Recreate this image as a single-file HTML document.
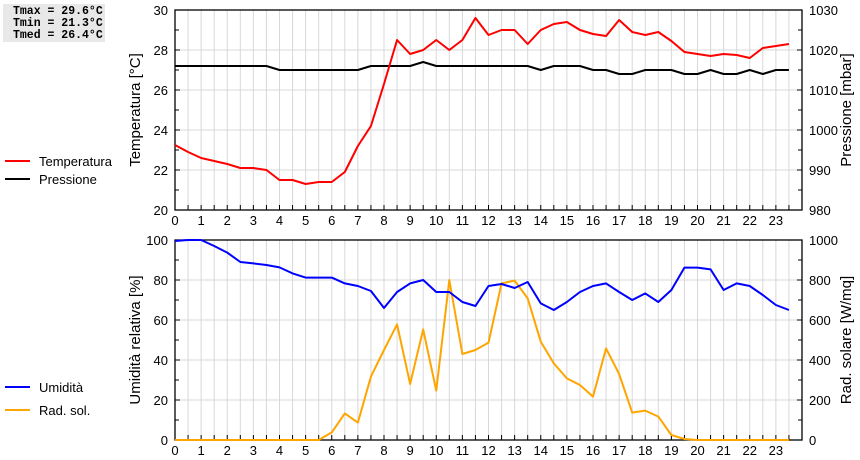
<!DOCTYPE html>
<html><head><meta charset="utf-8"><style>
body{margin:0;background:#fff;width:860px;height:460px;overflow:hidden;font-family:"Liberation Sans",sans-serif}
svg{display:block}
text{font-family:"Liberation Sans",sans-serif;font-size:13px;fill:#000}
.stats{position:absolute;left:3px;top:4px;width:102px;height:38px;background:#e8e8e8;font-family:"Liberation Mono",monospace;font-weight:bold;font-size:11.5px;line-height:12px;padding:2px 0 0 10px;box-sizing:border-box}
</style></head><body>
<div class="stats">Tmax = 29.6°C<br>Tmin = 21.3°C<br>Tmed = 26.4°C</div>
<svg id="c" width="860" height="460"></svg>
<script>
const hours=[];for(let i=0;i<48;i++)hours.push(i/2);
const tempValues=[23.25,22.9,22.6,22.45,22.3,22.1,22.1,22.0,21.5,21.5,21.3,21.4,21.4,21.9,23.2,24.2,26.3,28.5,27.8,28.0,28.5,28.0,28.5,29.6,28.75,29.0,29.0,28.3,29.0,29.3,29.4,29.0,28.8,28.7,29.5,28.9,28.75,28.9,28.45,27.9,27.8,27.7,27.8,27.75,27.6,28.1,28.2,28.3];
const pressValues=[1016,1016,1016,1016,1016,1016,1016,1016,1015,1015,1015,1015,1015,1015,1015,1016,1016,1016,1016,1017,1016,1016,1016,1016,1016,1016,1016,1016,1015,1016,1016,1016,1015,1015,1014,1014,1015,1015,1015,1014,1014,1015,1014,1014,1015,1014,1015,1015];
const humValues=[99.5,100,100,97,93.7,89,88.3,87.5,86.3,83.3,81.2,81.2,81.2,78.3,77,74.5,66,74,78.3,80,74,74,69,67,77,78,76,79,68.3,65,69,74,77,78.3,74,70,73.3,69,75,86.2,86.2,85.3,75,78.3,77,72.5,67.5,65];
const radValues=[0,0,0,0,0,0,0,0,0,0,0,0,38,133,87,317,450,578,280,553,247,800,430,450,487,783,797,708,492,383,308,275,217,458,330,137,147,117,25,5,0,0,0,0,0,0,0,0];
const xTicks=[0,1,2,3,4,5,6,7,8,9,10,11,12,13,14,15,16,17,18,19,20,21,22,23];
const tempTicks=[20,22,24,26,28,30];
const pressTicks=[980,990,1000,1010,1020,1030];
const humTicks=[0,20,40,60,80,100];
const radTicks=[0,200,400,600,800,1000];

const svg=document.getElementById('c');const NS='http://www.w3.org/2000/svg';
function mk(t,a,p){const e=document.createElementNS(NS,t);for(const k in a)e.setAttribute(k,a[k]);(p||svg).appendChild(e);return e;}
const X0=175,X1=802;
const xs=h=>X0+h*(X1-X0)/24;
function panel(top,bot,lmin,lmax,rmin,rmax,lTicks,rTicks,name){
  const g=mk('g',{});
  
  
  const ly=v=>bot-(v-lmin)/(lmax-lmin)*(bot-top);
  const ry=v=>bot-(v-rmin)/(rmax-rmin)*(bot-top);
  for(let i=1;i<48;i++){const l=mk('line',{x1:xs(i/2),x2:xs(i/2),y1:top,y2:bot,stroke:'#d8d8d8','stroke-width':1},g);
    
    mk('line',{x1:xs(i/2),x2:xs(i/2),y1:bot-5,y2:bot,stroke:'#000'},g);}
  lTicks.forEach((v,i)=>{const y=ly(v);
    if(v!==lmin&&v!==lmax){const l=mk('line',{x1:X0,x2:X1,y1:y,y2:y,stroke:'#d8d8d8'},g);
      }
    mk('line',{x1:X0,x2:X0+5,y1:y,y2:y,stroke:'#000'},g);mk('line',{x1:X1-5,x2:X1,y1:y,y2:y,stroke:'#000'},g);
    if(i<lTicks.length-1){const ym=(y+ly(lTicks[i+1]))/2;mk('line',{x1:X0,x2:X0+4,y1:ym,y2:ym,stroke:'#000'},g);mk('line',{x1:X1-4,x2:X1,y1:ym,y2:ym,stroke:'#000'},g);}
    const t=mk('text',{x:168,y:y+5,'text-anchor':'end'},g);t.textContent=v;
    });
  rTicks.forEach(v=>{const t=mk('text',{x:809,y:ry(v)+5},g);t.textContent=v;
    });
  xTicks.forEach(h=>{const t=mk('text',{x:xs(h),y:bot+15,'text-anchor':'middle'},g);t.textContent=h;
    });
  const f=mk('rect',{x:X0,y:top,width:X1-X0,height:bot-top,fill:'none',stroke:'#000','stroke-width':1.3},g);
  
  return {ly,ry,g};
}
function line(vals,sc,color,name,g){
  const p=mk('polyline',{points:vals.map((v,i)=>xs(hours[i])+','+sc(v)).join(' '),fill:'none',stroke:color,'stroke-width':2,'stroke-linejoin':'round'},g);
  
}
function title(txt,x,y,name){const t=mk('text',{x:x,y:y,transform:`rotate(-90 ${x} ${y})`,'text-anchor':'middle','font-size':'15'});t.style.fontSize='15px';t.textContent=txt;
  }
function legend(txt,y,color,name){const g=mk('g',{});
  mk('line',{x1:5,x2:30,y1:y,y2:y,stroke:color,'stroke-width':2},g);const t=mk('text',{x:39,y:y+5},g);t.textContent=txt;}

const p1=panel(10,210,20,30,980,1030,tempTicks,pressTicks,'temperature-pressure-panel');
line(pressValues,p1.ry,'#000','pressure-line',p1.g);
line(tempValues,p1.ly,'#f00','temperature-line',p1.g);
const p2=panel(240,440,0,100,0,1000,humTicks,radTicks,'humidity-radiation-panel');
line(radValues,p2.ry,'#ffa500','radiation-line',p2.g);
line(humValues,p2.ly,'#00f','humidity-line',p2.g);
title('Temperatura [°C]',140,110,'left-y-axis-title-top');
title('Pressione [mbar]',851,110,'right-y-axis-title-top');
title('Umidità relativa [%]',140,340,'left-y-axis-title-bottom');
title('Rad. solare [W/mq]',851,340,'right-y-axis-title-bottom');
legend('Temperatura',161,'#f00','legend-temperatura');
legend('Pressione',179,'#000','legend-pressione');
legend('Umidità',387,'#00f','legend-umidita');
legend('Rad. sol.',410,'#ffa500','legend-rad-sol');
</script>
</body></html>
